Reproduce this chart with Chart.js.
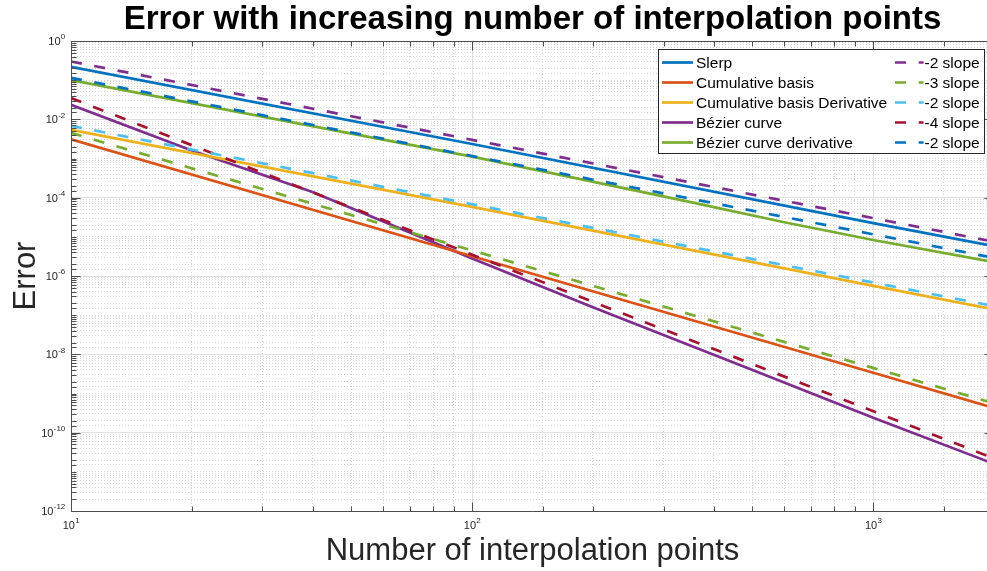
<!DOCTYPE html>
<html>
<head>
<meta charset="utf-8">
<script src="https://cdn.jsdelivr.net/npm/chart.js@4/dist/chart.umd.min.js"></script>
<style>
  html, body { margin: 0; padding: 0; background: #fff; overflow: hidden; }
  #wrap { width: 1068px; height: 571px; }
</style>
</head>
<body>
<div id="wrap"><canvas id="errChart" width="1068" height="571"></canvas></div>
<script>
// Number of interpolation points where each curve was sampled
const slerpN      = [10, 100, 1000, 2000];
const cumN        = [10, 100, 1000, 2000];
const cumDerN     = [10, 100, 1000, 2000];
const bezierN     = [10, 20, 40, 100, 200, 500, 1000, 2000];
const bezierDerN  = [10, 100, 330, 600, 1000, 2000];
const refN        = [10, 2000];

// Measured interpolation error
const slerpErr      = [0.219, 0.00234, 2.24e-5, 5.75e-6];
const cumErr        = [0.0031, 3.2e-6, 3.4e-9, 4.3e-10];
const cumDerErr     = [0.0054, 5.8e-5, 5.6e-7, 1.4e-7];
const bezierErr     = [0.0235, 1.6e-3, 1.4e-4, 2.8e-6, 1.6e-7, 4.0e-9, 2.4e-10, 1.6e-11];
const bezierDerErr  = [0.100, 1.12e-3, 8.8e-5, 2.35e-5, 8.3e-6, 2.25e-6];

// Reference slope lines (end points)
const refSlerp      = [0.30, 7.5e-6];
const refCum        = [0.0045, 5.6e-10];
const refCumDer     = [0.0068, 1.7e-7];
const refBezier     = [0.035, 2.2e-11];
const refBezierDer  = [0.115, 2.9e-6];

const seriesLabels = ['Slerp', 'Cumulative basis', 'Cumulative basis Derivative', 'B\u00e9zier curve', 'B\u00e9zier curve derivative'];
const refLabels    = ['-2 slope', '-3 slope', '-2 slope', '-4 slope', '-2 slope'];

// Decades that carry a "10^k" label
const xTickDecades = [1, 2, 3];
const yTickDecades = [0, -2, -4, -6, -8, -10, -12];

const C = {
  blue: '#0072BD', orange: '#D95319', yellow: '#EDB120', purple: '#7E2F8E',
  green: '#77AC30', cyan: '#4DBEEE', red: '#A2142F'
};
const FONT = '"Liberation Sans", Arial, Helvetica, sans-serif';
const DASH = [11, 12.7];

function pts(xs, ys) { return xs.map((x, i) => ({ x, y: ys[i] })); }
function solid(label, xs, ys, color) {
  return { label, data: pts(xs, ys), borderColor: color, backgroundColor: color,
           borderWidth: 2.7, pointRadius: 0, showLine: true, fill: false, tension: 0, order: 2 };
}
function dashed(label, xs, ys, color) {
  return { label, data: pts(xs, ys), borderColor: color, backgroundColor: color,
           borderWidth: 2.7, borderDash: DASH, pointRadius: 0, showLine: true, fill: false, tension: 0, order: 1 };
}

function decadeOf(v) {
  const l = Math.log10(v);
  const r = Math.round(l);
  return Math.abs(l - r) < 1e-6 ? r : null;
}
function isXMajor(v) { const d = decadeOf(v); return d !== null && xTickDecades.includes(d); }
function isYMajor(v) { const d = decadeOf(v); return d !== null && yTickDecades.includes(d); }

// Power-of-ten tick labels with a raised exponent, placed at the scale's tick positions
const powerTickLabels = {
  id: 'powerTickLabels',
  afterDraw(chart) {
    const { ctx, chartArea: a, scales: { x, y } } = chart;
    ctx.save();
    ctx.fillStyle = '#262626';
    ctx.textBaseline = 'middle';
    ctx.textAlign = 'left';
    const baseFont = '11px ' + FONT, supFont = '8px ' + FONT;
    const draw = (e, cx, cy, align) => {
      const es = String(e);
      ctx.font = baseFont; const wb = ctx.measureText('10').width;
      ctx.font = supFont;  const we = ctx.measureText(es).width;
      const left = align === 'right' ? cx - wb - we : cx - (wb + we) / 2;
      ctx.font = baseFont; ctx.fillText('10', left, cy);
      ctx.font = supFont;  ctx.fillText(es, left + wb + 0.3, cy - 5);
    };
    x.ticks.forEach(t => {
      if (isXMajor(t.value)) draw(decadeOf(t.value), x.getPixelForValue(t.value), a.bottom + 15, 'center');
    });
    y.ticks.forEach(t => {
      if (isYMajor(t.value)) draw(decadeOf(t.value), a.left - 6, y.getPixelForValue(t.value) + 1, 'right');
    });
    ctx.restore();
  }
};

// Box outline and inward tick marks, drawn over the data like a framed axes
const axisBox = {
  id: 'axisBox',
  afterDatasetsDraw(chart) {
    const { ctx, chartArea: a, scales: { x, y } } = chart;
    ctx.save();
    ctx.strokeStyle = '#4d4d4d';
    ctx.lineWidth = 1;
    ctx.beginPath();
    const L = Math.round(a.left) + 0.5, B = Math.round(a.bottom) + 0.5;
    const T = Math.round(a.top) + 0.5, R = Math.round(a.right) - 0.5;
    ctx.moveTo(L, T); ctx.lineTo(L, B); ctx.lineTo(R, B); ctx.lineTo(R, T); ctx.closePath();
    x.ticks.forEach(t => {
      const px = Math.round(x.getPixelForValue(t.value)) + 0.5;
      if (px < a.left || px > a.right) return;
      const len = isXMajor(t.value) ? 9 : 5;
      ctx.moveTo(px, B); ctx.lineTo(px, B - len);
      ctx.moveTo(px, T); ctx.lineTo(px, T + len);
    });
    y.ticks.forEach(t => {
      const py = Math.round(y.getPixelForValue(t.value)) + 0.5;
      const len = isYMajor(t.value) ? 9 : 5;
      ctx.moveTo(L, py); ctx.lineTo(L + len, py);
      ctx.moveTo(R, py); ctx.lineTo(R - len, py);
    });
    ctx.stroke();
    ctx.restore();
  }
};

// Two-column legend in the upper right corner of the axes
const twoColLegend = {
  id: 'twoColLegend',
  afterDraw(chart) {
    const { ctx } = chart;
    const ds = chart.data.datasets;
    const box = { x: 658.5, y: 49.5, w: 326, h: 104 };
    ctx.save();
    ctx.fillStyle = '#ffffff';
    ctx.fillRect(box.x, box.y, box.w, box.h);
    ctx.strokeStyle = '#262626';
    ctx.lineWidth = 1;
    ctx.strokeRect(box.x, box.y, box.w, box.h);
    ctx.font = '15.5px ' + FONT;
    ctx.textBaseline = 'middle';
    ctx.textAlign = 'left';
    ctx.fillStyle = '#000';
    const rowY = i => 62.5 + i * 20;
    for (let i = 0; i < 5; i++) {
      const d = ds[i];
      ctx.strokeStyle = d.borderColor;
      ctx.lineWidth = 2.7;
      ctx.setLineDash([]);
      ctx.beginPath(); ctx.moveTo(662, rowY(i)); ctx.lineTo(693, rowY(i)); ctx.stroke();
      ctx.fillText(d.label, 696, rowY(i) + 1);
    }
    for (let i = 0; i < 5; i++) {
      const d = ds[5 + i];
      ctx.strokeStyle = d.borderColor;
      ctx.lineWidth = 2.7;
      ctx.setLineDash(DASH);
      ctx.beginPath(); ctx.moveTo(895, rowY(i)); ctx.lineTo(923.5, rowY(i)); ctx.stroke();
      ctx.setLineDash([]);
      ctx.fillText(d.label, 924.5, rowY(i) + 1);
    }
    ctx.restore();
  }
};

const gridColor = (isMajor) => (ctx) => {
  if (!ctx.tick) return '#d9d9d9';
  return isMajor(ctx.tick.value) ? '#e0e0e0' : '#d6d6d6';
};
const gridDash = (isMajor) => (ctx) => {
  if (!ctx.tick) return [];
  return isMajor(ctx.tick.value) ? [] : [1, 2];
};

new Chart(document.getElementById('errChart'), {
  type: 'scatter',
  data: {
    datasets: [
      solid(seriesLabels[0], slerpN, slerpErr, C.blue),
      solid(seriesLabels[1], cumN, cumErr, C.orange),
      solid(seriesLabels[2], cumDerN, cumDerErr, C.yellow),
      solid(seriesLabels[3], bezierN, bezierErr, C.purple),
      solid(seriesLabels[4], bezierDerN, bezierDerErr, C.green),
      dashed(refLabels[0], refN, refSlerp, C.purple),
      dashed(refLabels[1], refN, refCum, C.green),
      dashed(refLabels[2], refN, refCumDer, C.cyan),
      dashed(refLabels[3], refN, refBezier, C.red),
      dashed(refLabels[4], refN, refBezierDer, C.blue)
    ]
  },
  options: {
    responsive: false,
    animation: false,
    devicePixelRatio: 1,
    layout: { padding: { left: 0, right: 74, top: 0, bottom: 0 } },
    plugins: {
      legend: { display: false },
      tooltip: { enabled: false },
      title: {
        display: true,
        fullSize: false,
        text: 'Error with increasing number of interpolation points',
        color: '#000',
        font: { family: FONT, size: 33, weight: 'bold', lineHeight: 1.0 },
        padding: { top: 3, bottom: 5 }
      }
    },
    scales: {
      x: {
        type: 'logarithmic',
        min: 10, max: 2000,
        afterFit: s => { s.height = 60; },
        grid: { color: gridColor(isXMajor), lineWidth: 1, drawTicks: false },
        border: { display: false, dash: gridDash(isXMajor) },
        ticks: { display: false, autoSkip: false, maxRotation: 0 },
        title: {
          display: true, text: 'Number of interpolation points', color: '#262626',
          font: { family: FONT, size: 31, lineHeight: 1.0 },
          padding: { top: 0, bottom: 4 }
        }
      },
      y: {
        type: 'logarithmic',
        min: 1e-12, max: 1,
        afterFit: s => { s.width = 71; },
        grid: { color: gridColor(isYMajor), lineWidth: 1, drawTicks: false },
        border: { display: false, dash: gridDash(isYMajor) },
        ticks: { display: false, autoSkip: false },
        title: {
          display: true, text: 'Error', color: '#262626',
          font: { family: FONT, size: 31, lineHeight: 1.0 },
          padding: { top: 11, bottom: 0 }
        }
      }
    }
  },
  plugins: [axisBox, powerTickLabels, twoColLegend]
});
</script>
</body>
</html>
